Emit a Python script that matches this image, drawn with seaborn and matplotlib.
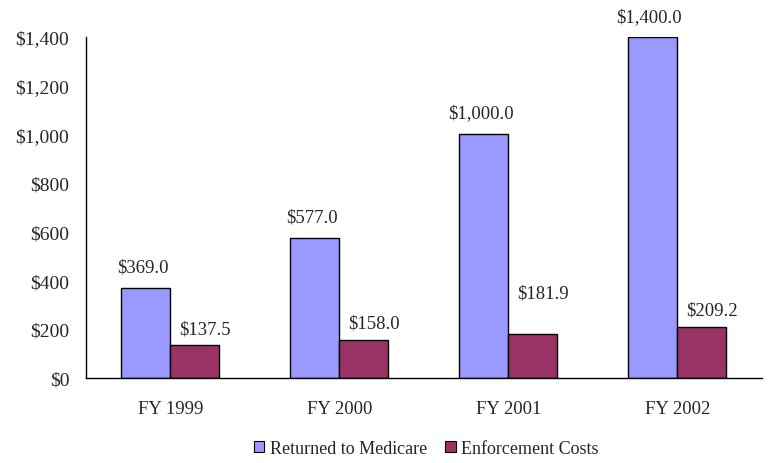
import matplotlib
matplotlib.use("Agg")
import matplotlib.pyplot as plt
import seaborn as sns
import pandas as pd
import numpy as np
from matplotlib.patches import Patch

years = ["FY 1999", "FY 2000", "FY 2001", "FY 2002"]
returned = [369.0, 577.0, 1000.0, 1400.0]
enforcement = [137.5, 158.0, 181.9, 209.2]
series = ["Returned to Medicare", "Enforcement Costs"]
yticks = [0, 200, 400, 600, 800, 1000, 1200, 1400]

df = pd.DataFrame({
    "year": years * 2,
    "value": returned + enforcement,
    "series": [series[0]] * 4 + [series[1]] * 4,
})

sns.set_style("white")
plt.rcParams["font.family"] = ["Liberation Serif", "DejaVu Serif"]

colors = ["#9999FF", "#993366"]
fig = plt.figure(figsize=(7.68, 4.64), dpi=100)
ax = fig.add_axes([0.112, 0.183, 0.880, 0.735])

sns.barplot(data=df, x="year", y="value", hue="series", palette=colors,
            width=0.58, gap=0, edgecolor="black", linewidth=1.0,
            legend=False, ax=ax, saturation=1)

ax.set_xlim(-0.5, 3.5)
ax.set_ylim(0, 1400)
ax.set_yticks(yticks)
ax.set_yticklabels([f"${v:,.0f}" for v in yticks], fontsize=14)
ax.set_xlabel("")
ax.set_ylabel("")
ax.set_xticks(range(4))
ax.set_xticklabels(years, fontsize=13.5)
ax.set_xticks([0.5, 1.5, 2.5, 3.5], minor=True)
ax.tick_params(axis="x", which="major", length=0, pad=16)
ax.tick_params(axis="x", which="minor", length=5, direction="out", color="black", width=1)
ax.tick_params(axis="y", length=5, direction="out", color="black", width=1, pad=7)
for s in ["top", "right"]:
    ax.spines[s].set_visible(False)
for s in ["left", "bottom"]:
    ax.spines[s].set_color("black")
    ax.spines[s].set_linewidth(1)

# value labels
blue_off = [15, 15, 16, 15]
red_off = [11, 12, 29, 12]
conts = ax.containers
for bar, v, off in zip(conts[0], returned, blue_off):
    ax.annotate(f"${v:,.1f}", (bar.get_x() + bar.get_width() / 2 - 0.02, bar.get_height()),
                xytext=(0, off), textcoords="offset points", ha="center", va="center", fontsize=13.5)
for bar, v, off in zip(conts[1], enforcement, red_off):
    ax.annotate(f"${v:,.1f}", (bar.get_x() + bar.get_width() / 2 + 0.06, bar.get_height()),
                xytext=(0, off), textcoords="offset points", ha="center", va="center", fontsize=13.5)

handles = [Patch(facecolor=c, edgecolor="black", linewidth=0.8) for c in colors]
fig.legend(handles, series, loc="lower center", bbox_to_anchor=(0.555, -0.022), ncol=2,
           frameon=False, fontsize=13, handlelength=0.6, handleheight=0.6,
           handletextpad=0.3, columnspacing=1.0)

fig.savefig("out.png", dpi=100)
